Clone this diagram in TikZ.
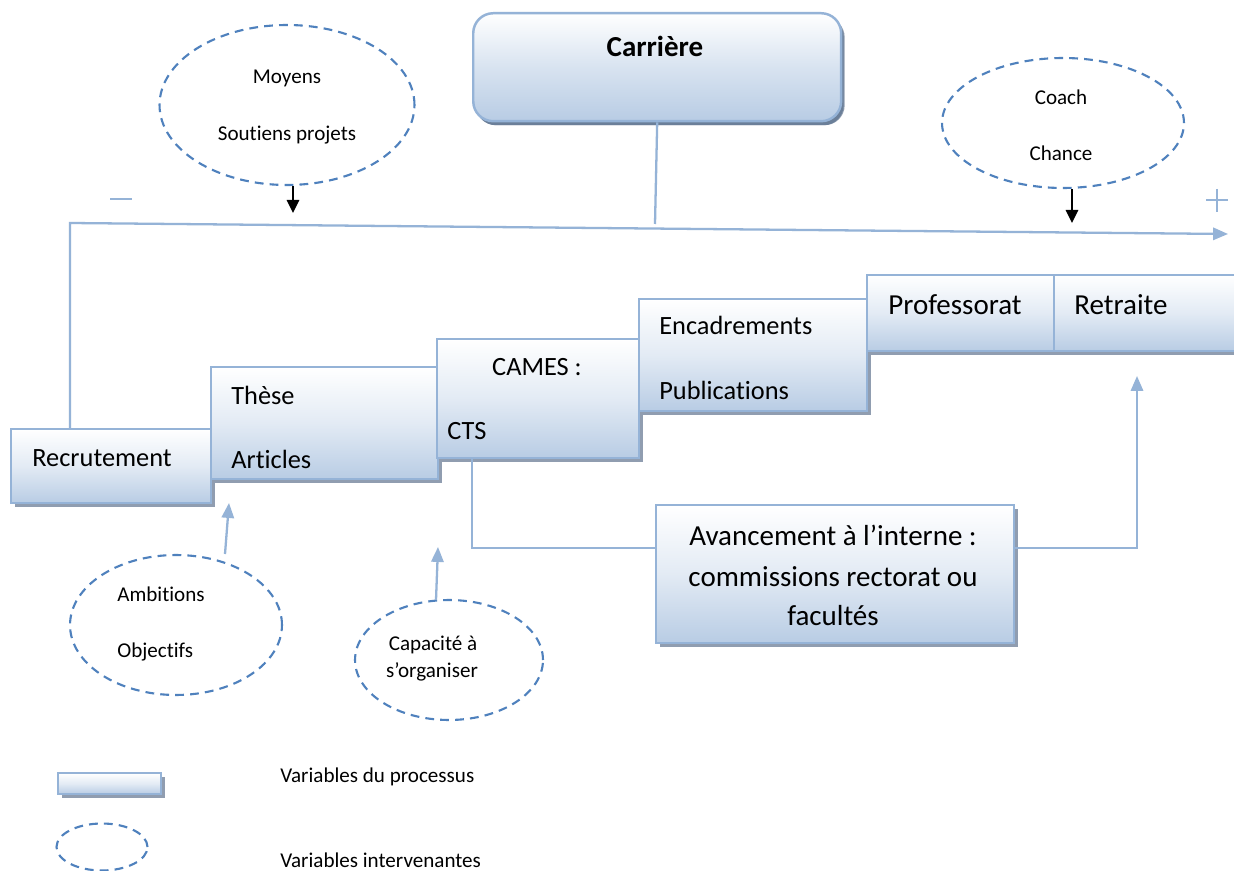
\documentclass[tikz,border=0pt]{standalone}
\usepackage{fontspec}
\setmainfont{Carlito}[Ligatures=NoCommon]
\usetikzlibrary{shapes.geometric,arrows.meta,shadows,calc}
\definecolor{bxborder}{HTML}{95B3D7}
\definecolor{bxbottom}{HTML}{B8CCE4}
\definecolor{bxshadow}{HTML}{909DB0}
\definecolor{carshadow}{HTML}{6B7F99}
\definecolor{dashblue}{HTML}{4F81BD}
\definecolor{linkblue}{HTML}{95B3D7}
\begin{document}
\begin{tikzpicture}[x=0.02cm,y=-0.02cm,
  procbox/.style={draw=bxborder, line width=1.4pt, top color=white, bottom color=bxbottom,
    middle color=bxbottom!40, anchor=north west, inner sep=0pt,
    general shadow={fill=bxshadow, shadow xshift=0.07cm, shadow yshift=-0.08cm}},
  varell/.style={ellipse, draw=dashblue, line width=1.2pt, dash pattern=on 5pt off 3.5pt, inner sep=0pt},
  boxtxt/.style={font=\fontsize{15}{18}\selectfont, inner sep=0pt},
  bigtxt/.style={font=\fontsize{16.5}{19}\selectfont, inner sep=0pt},
  smalltxt/.style={font=\fontsize{12}{14}\selectfont, inner sep=0pt},
  link/.style={draw=linkblue, line width=1.3pt},
  linkarrow/.style={link, -{Triangle[width=7pt,length=8.5pt]}},
  blackarrow/.style={draw=black, line width=1.3pt, -{Triangle[width=7pt,length=7.5pt]}},
  sign/.style={draw=linkblue, line width=1.6pt}
]
\clip (0,0) rectangle (1234,871);
\fill[white] (0,0) rectangle (1234,871);

% Carriere
\node[procbox, rounded corners=0.4cm, minimum width=7.36cm, minimum height=2.16cm,
  middle color=bxbottom!55,
  general shadow={fill=carshadow, shadow xshift=0.05cm, shadow yshift=-0.08cm}] (car) at (472,12) {};
\node[font=\fontsize{16.5}{19}\selectfont\bfseries, inner sep=0pt] (cartxt) at (655,46) {Carrière};

% main axis
\coordinate (corner) at (70,223);
\coordinate (axisend) at (1228,234);
\coordinate (carfoot) at (655,224);
\draw[link] (car.south) -- (carfoot);

% process boxes
\node[procbox, minimum width=4cm, minimum height=1.48cm] (rec) at (10,428) {};
\node[procbox, minimum width=4.54cm, minimum height=2.24cm] (these) at (210,366) {};
\node[procbox, minimum width=4.04cm, minimum height=2.38cm] (cames) at (436,338) {};
\node[procbox, minimum width=4.56cm, minimum height=2.24cm] (enc) at (638,298) {};
\node[procbox, minimum width=3.74cm, minimum height=1.52cm] (prof) at (866,274) {};
\node[procbox, minimum width=3.8cm, minimum height=1.52cm] (retr) at (1053,274) {};
\node[procbox, minimum width=7.16cm, minimum height=2.76cm] (av) at (655,504) {};

\draw[linkarrow] ($(rec.north west)+(60,0)$) -- (corner) -- (axisend);

\node[boxtxt, anchor=mid west] (trec) at (32,462) {Recrutement};
\node[boxtxt, anchor=mid west] (tthese) at (231,400) {Thèse};
\node[boxtxt, anchor=mid west] (tart) at (231,464) {Articles};
\node[boxtxt, anchor=mid] (tcames) at (537,371) {CAMES :};
\node[boxtxt, anchor=mid west] (tcts) at (447,435) {CTS};
\node[boxtxt, anchor=mid west] (tenc) at (659,330) {Encadrements};
\node[boxtxt, anchor=mid west] (tpub) at (659,395) {Publications};
\node[bigtxt, anchor=mid west] (tprof) at (888,310) {Professorat};
\node[bigtxt, anchor=mid west] (tretr) at (1074,310) {Retraite};
\node[bigtxt, anchor=mid] (tav1) at (833,541) {Avancement à l’interne :};
\node[bigtxt, anchor=mid] (tav2) at (833,582) {commissions rectorat ou};
\node[bigtxt, anchor=mid] (tav3) at (833,621) {facultés};

% internal advancement connectors
\coordinate (retin) at (1137,376);
\draw[link] ($(cames.south west)+(36,0)$) |- ($(av.north west)+(0,44)$);
\draw[linkarrow] ($(av.north east)+(0,44)$) -| (retin);

% intervening variables
\node[varell, minimum width=5.1cm, minimum height=3.2cm] (e1) at (287,105) {};
\node[smalltxt] (tmoy) at (287,78) {Moyens};
\node[smalltxt] (tsou) at (287,135) {Soutiens projets};
\coordinate (e1tip) at (293,213);
\draw[blackarrow] ($(e1.south)+(6,0)$) -- (e1tip);

\node[varell, minimum width=4.84cm, minimum height=2.6cm] (e2) at (1063,123) {};
\node[smalltxt] (tcoach) at (1061,97) {Coach};
\node[smalltxt] (tchance) at (1061,153) {Chance};
\coordinate (e2tip) at (1072,223);
\draw[blackarrow] ($(e2.south)+(9,0)$) -- (e2tip);

\node[varell, minimum width=4.24cm, minimum height=2.8cm] (e3) at (176,625) {};
\node[smalltxt, anchor=mid west] (tamb) at (117,597) {Ambitions};
\node[smalltxt, anchor=mid west] (tobj) at (117,653) {Objectifs};
\coordinate (e3base) at (225,554);
\coordinate (e3tip) at (229,503);
\draw[linkarrow] (e3base) -- (e3tip);

\node[varell, minimum width=3.76cm, minimum height=2.4cm] (e4) at (449,660) {};
\node[smalltxt] (tcap1) at (433,645) {Capacité à};
\node[smalltxt] (tcap2) at (432,672) {s’organiser};
\coordinate (e4base) at (436,600);
\coordinate (e4tip) at (438,547);
\draw[linkarrow] (e4base) -- (e4tip);

% signs
\draw[sign] (110,199) -- (132,199);
\draw[sign] (1206,200) -- (1228,200);
\draw[sign] (1217,189) -- (1217,212);

% legend
\node[procbox, minimum width=2.06cm, minimum height=0.42cm] (legbox) at (57,772) {};
\node[smalltxt, anchor=mid west] (tleg1) at (280,778) {Variables du processus};
\node[varell, minimum width=1.82cm, minimum height=0.94cm] (legell) at (102,847) {};
\node[smalltxt, anchor=mid west] (tleg2) at (280,863) {Variables intervenantes};
\end{tikzpicture}
\end{document}
